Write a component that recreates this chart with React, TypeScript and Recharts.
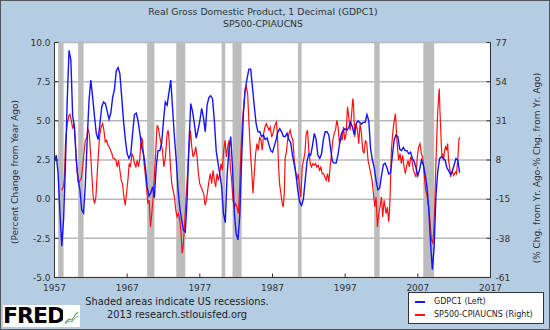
import React from 'react';
import { LineChart, Line, XAxis, YAxis, CartesianGrid, ReferenceArea } from 'recharts';

// Real GDP, percent change from year ago (quarterly, starting 1957 Q1)
const gdpStartYear = 1957;
const gdpValues = [
  2.4, 2.8, 1.6, -0.9,
  -3.0, -1.3, 2.1, 6.3,
  9.5, 8.9, 5.3, 4.6,
  2.5, 1.2, 0.6, -0.7,
  -0.9, 1.0, 3.8, 6.3,
  7.6, 6.5, 5.3, 4.2,
  3.8, 4.8, 5.9, 6.2,
  6.1, 5.6, 5.1, 5.5,
  6.5, 7.0, 8.2, 8.4,
  8.0, 6.5, 5.0, 3.8,
  2.9, 2.6, 2.9, 4.2,
  5.4, 5.5, 5.0, 4.2,
  3.3, 2.9, 2.1, 0.8,
  0.2, 0.4, 0.8, 0.1,
  2.1, 3.1, 3.1, 3.6,
  5.0, 6.2, 6.0, 6.8,
  7.6, 5.8, 4.0, 2.5,
  0.6, -0.6, -1.3, -2.0,
  -2.1, 0.0, 3.5, 6.1,
  5.6, 4.8, 3.9, 4.4,
  5.0, 5.8, 5.2, 4.3,
  6.0, 6.5, 6.6, 6.4,
  5.0, 3.1, 2.3, 1.6,
  0.8, -0.9, -1.5, 1.5,
  3.1, 4.0, 2.0, -0.9,
  -2.2, -2.6, -1.0, 2.5,
  5.5, 7.0, 7.7, 8.3,
  8.3, 7.1, 5.9, 4.8,
  4.3, 4.3, 4.0, 4.1,
  3.8, 3.9, 3.5, 3.1,
  3.0, 3.4, 3.8, 4.3,
  4.5, 4.3, 4.0, 4.0,
  4.2, 3.8, 3.6, 2.8,
  2.2, 1.5, 0.5, -0.2,
  -0.4, 0.0, 1.2, 2.4,
  2.9, 2.8, 3.4, 4.2,
  3.8, 2.8, 2.6, 2.9,
  3.8, 4.3, 4.3, 4.1,
  3.2, 2.4, 2.3, 2.3,
  2.8, 3.6, 4.2, 4.4,
  4.5, 4.4, 4.6, 4.9,
  4.6, 4.1, 4.8, 5.0,
  4.9, 4.8, 4.9, 4.9,
  5.4, 5.0, 3.2, 2.5,
  2.0, 1.2, 0.6, 0.7,
  1.5, 2.2, 2.3, 2.0,
  1.6, 1.7, 2.8, 3.8,
  4.1, 4.0, 3.2, 3.1,
  3.3, 3.1, 3.1, 2.9,
  3.0, 2.6, 2.4, 2.0,
  1.5, 1.9, 2.5, 2.2,
  1.6, 0.8, -0.6, -2.8,
  -4.5, -3.0, 0.3, 1.8,
  2.6, 2.7, 2.6, 2.5,
  2.0, 1.8, 1.6, 1.8,
  2.2, 2.6, 2.5, 1.7,
];

// SP500 % chg from yr ago minus CPI % chg from yr ago (dates as fractional years)
const spYears = [
  1958.0, 1958.2, 1958.35, 1958.53, 1958.76, 1958.99, 1959.13, 1959.31, 1959.5, 1959.68, 1959.82,
  1960.0, 1960.14, 1960.32, 1960.5, 1960.69, 1960.87, 1961.05, 1961.24, 1961.42, 1961.6, 1961.78, 1961.97,
  1962.15, 1962.33, 1962.52, 1962.7, 1962.88, 1963.07, 1963.25, 1963.43, 1963.62, 1963.8, 1963.98,
  1964.17, 1964.35, 1964.53, 1964.71, 1964.9, 1965.08, 1965.26, 1965.45, 1965.63, 1965.81,
  1966.0, 1966.18, 1966.36, 1966.55, 1966.73, 1966.91, 1967.1, 1967.28, 1967.46, 1967.65, 1967.83,
  1968.01, 1968.2, 1968.38, 1968.56, 1968.74, 1968.93, 1969.11, 1969.29, 1969.48, 1969.66, 1969.84,
  1970.03, 1970.21, 1970.39, 1970.58, 1970.76, 1970.94, 1971.12, 1971.31, 1971.49, 1971.67, 1971.86,
  1972.04, 1972.27, 1972.5, 1972.64, 1972.77, 1972.96, 1973.14, 1973.32, 1973.5, 1973.69, 1973.87,
  1974.05, 1974.24, 1974.42, 1974.56, 1974.7, 1974.88, 1975.06, 1975.25, 1975.43, 1975.61, 1975.7, 1975.89,
  1976.07, 1976.25, 1976.44, 1976.62, 1976.8, 1976.99, 1977.17, 1977.35, 1977.53, 1977.72, 1977.9,
  1978.08, 1978.27, 1978.45, 1978.63, 1978.82, 1979.0, 1979.18, 1979.37, 1979.55, 1979.73, 1979.92,
  1980.1, 1980.28, 1980.47, 1980.65, 1980.83, 1981.01, 1981.2, 1981.38, 1981.56, 1981.75, 1981.93,
  1982.11, 1982.3, 1982.48, 1982.66, 1982.85, 1983.03, 1983.21, 1983.4, 1983.58, 1983.76, 1983.95,
  1984.13, 1984.31, 1984.49, 1984.68, 1984.86, 1985.04, 1985.23, 1985.41, 1985.59, 1985.78, 1985.96,
  1986.14, 1986.33, 1986.51, 1986.69, 1986.88, 1987.06, 1987.24, 1987.42, 1987.56, 1987.7, 1987.84, 1987.97,
  1988.16, 1988.34, 1988.48, 1988.62, 1988.75, 1988.89, 1989.07, 1989.26, 1989.44, 1989.62, 1989.81, 1989.99,
  1990.17, 1990.36, 1990.54, 1990.72, 1990.9, 1991.09, 1991.27, 1991.45, 1991.64, 1991.82,
  1992.0, 1992.19, 1992.37, 1992.55, 1992.74, 1992.92, 1993.1, 1993.29, 1993.47, 1993.65, 1993.84,
  1994.02, 1994.2, 1994.38, 1994.57, 1994.75, 1994.93, 1995.12, 1995.3, 1995.48, 1995.67, 1995.85,
  1996.03, 1996.22, 1996.4, 1996.58, 1996.77, 1996.95, 1997.13, 1997.32, 1997.5, 1997.68, 1997.86,
  1998.05, 1998.14, 1998.32, 1998.51, 1998.69, 1998.87, 1999.05, 1999.24, 1999.42, 1999.6, 1999.79, 1999.97,
  2000.15, 2000.34, 2000.52, 2000.7, 2000.89, 2001.07, 2001.25, 2001.44, 2001.62, 2001.8, 2001.99,
  2002.17, 2002.35, 2002.5, 2002.63, 2002.81, 2002.99, 2003.08, 2003.18, 2003.27, 2003.36, 2003.5, 2003.63, 2003.77, 2003.91,
  2004.0, 2004.09, 2004.23, 2004.37, 2004.55, 2004.73, 2004.92, 2005.1, 2005.28, 2005.47, 2005.65, 2005.83,
  2006.02, 2006.2, 2006.38, 2006.56, 2006.75, 2006.93, 2007.11, 2007.3, 2007.48, 2007.66, 2007.8, 2007.94,
  2008.08, 2008.21, 2008.35, 2008.49, 2008.62, 2008.76, 2008.9, 2009.04, 2009.17, 2009.31, 2009.45, 2009.59, 2009.72, 2009.86, 2009.95,
  2010.04, 2010.14, 2010.23, 2010.32, 2010.41, 2010.55, 2010.68, 2010.82, 2010.96,
  2011.1, 2011.23, 2011.37, 2011.51, 2011.65, 2011.78, 2011.92, 2012.06, 2012.2, 2012.33, 2012.52, 2012.65, 2012.75,
];
const spValues = [
  -9.8, -8.0, -3.0, 19.6, 29.4, 34.3, 34.9, 31.3, 26.4, 29.4, 21.5,
  7.8, 0, -5.9, -3.9, -2.9, 3.9, 11.8, 19.6, 20.6, 26.4, 23.5, 11.8,
  -1.9, -13.7, -17.6, -13.7, 0, 13.7, 23.5, 27.4, 29.4, 25.5, 18.6,
  19.6, 16.7, 15.7, 13.7, 11.8, 8.8, 8.8, 7.8, 3.9, 7.8,
  2.0, -3.9, -5.9, -13.7, -18.6, -11.7, -3.9, 5.9, 3.9, 11.8, 9.8,
  5.9, 3.9, 7.8, 3.9, 8.8, 21.5, 19.6, 7.8, 0, -7.8, -17.6,
  -15.6, -31.3, -23.5, -13.7, 0, 13.7, 28.4, 26.4, 21.5, 17.6, 13.7,
  4, 9.8, 23.5, 25.5, 19.6, 3.9, -5.9, -9.8, -13.7, -21.5, -25.4,
  -23.5, -27.4, -35.2, -46.9, -43.0, -31.3, -17.6, -3.9, 9.8, 19.6, 25.5, 15.7,
  9.8, 11.8, 15.7, 9.8, 0, -5.9, -7.8, -9.8, -11.7, -18.6, -15.6,
  -9.8, -3.9, 0, -5.9, 2, -3.9, -7.8, 0, -3.9, 0, 5.9,
  2, 13.7, 19.6, 9.8, 15.7, 19.6, 3.9, -3.9, -15.6, -19.6, -17.6,
  -19.6, -23.5, -7.8, 13.7, 29.4, 39.2, 48.9, 50.9, 47.0, 29.4, 13.7,
  2, -11.7, 0, 11.8, 17.6, 13.7, 21.5, 19.6, 13.7, 23.5, 27.4,
  29.4, 27.4, 25.5, 27.4, 21.5, 23.5, 27, 29.4, 30.4, 19.6, 3.9, -5.9,
  -11.7, -17.6, -19.6, -11.7, 9.8, 11.8, 19.6, 23.5, 25.5, 21.5, 19.6, 7.8,
  2, -3.9, 0, -7.8, -13.7, 3.9, 7.8, 11.8, 23.5, 25.5,
  13.7, 5.9, 3.9, 5.9, 4.9, 5.9, 3.9, 4.9, 2, 3.9, 0,
  0, -2, -3.9, 0, -4.9, 3.9, 11.8, 19.6, 23.5, 25.5, 31.3,
  27.4, 17.6, 21.5, 19.6, 27.4, 19.6, 23.5, 39.2, 33.3, 25.5, 33.3,
  44.1, 41.1, 21.5, 29.4, 25.5, 17.6, 29.4, 23.5, 13.7, 11.8, 19.6, 17.6,
  7.8, 3.9, 0, -3.9, -11.7, -19.6, -13.7, -31.3, -23.5, -19.6, -13.7,
  -25.4, -15.6, -19.6, -23.5, -19.6, -28.3, -23.5, -13.7, 0, 13.7, 21.5, 27.4, 31.3, 35.2,
  29.4, 21.5, 13.7, 7.8, 11.8, 5.9, 10.8, 3.9, 0, 4.9, 7.8, 3.9,
  9.8, 7.8, 2, 0, -2, 9.8, 15.7, 17.6, 11.8, 9.8, 3.9, -3.9,
  -9.8, -11.7, -15.6, -19.6, -25.4, -33.3, -39.1, -41.1, -35.2, -21.5, 0, 19.6, 35.2, 45.0, 49.9,
  37.2, 27.4, 17.6, 9.8, 11.8, 7.8, 13.7, 15.7, 13.7,
  17.6, 7.8, 3.9, -1.9, 0, 1, -1, 0, 1, 0, 9.8, 19.6, 21.5,
];

const recessionStarts = [1957.5, 1960.25, 1969.75, 1973.75, 1980.0, 1981.5, 1990.5, 2001.0, 2007.75];
const recessionEnds = [1958.25, 1961.0, 1970.75, 1975.0, 1980.5, 1982.75, 1991.0, 2001.75, 2009.25];

const xTicks = [1957, 1967, 1977, 1987, 1997, 2007, 2017];
const leftTicks = [-5, -2.5, 0, 2.5, 5, 7.5, 10];
const rightTicks = [-61, -38, -15, 8, 31, 54, 77];

const titleLine1 = 'Real Gross Domestic Product, 1 Decimal (GDPC1)';
const titleLine2 = 'SP500-CPIAUCNS';
const leftLabel = '(Percent Change from Year Ago)';
const rightLabel = '(% Chg. from Yr. Ago-% Chg. from Yr. Ago)';
const legendNames = ['GDPC1 (Left)', 'SP500-CPIAUCNS (Right)'];

const gdpData = gdpValues.map((v, i) => ({ x: gdpStartYear + i / 4, v }));
const spData = spYears.map((x, i) => ({ x, v: spValues[i] }));

const FONT = '"DejaVu Sans", sans-serif';
const tickStyle = { fontSize: 9, fill: '#333', fontFamily: FONT };

const abs = (x: number, y: number, extra: React.CSSProperties = {}): React.CSSProperties => ({
  position: 'absolute',
  left: x,
  top: y,
  whiteSpace: 'nowrap',
  fontFamily: FONT,
  color: '#222',
  ...extra,
});

export default function App() {
  return (
    <div
      style={{
        position: 'fixed',
        left: 0,
        top: 0,
        width: 550,
        height: 330,
        background: '#b5cde3',
        boxSizing: 'border-box',
        border: '1px solid #555',
        overflow: 'hidden',
      }}
    >
      <div style={{ position: 'absolute', left: -1, top: -1 }}>
        <LineChart width={550} height={330} margin={{ top: 42.5, right: 0.5, bottom: 32.5, left: 0.5 }}>
          <CartesianGrid yAxisId="left" vertical={false} fill="#ffffff" stroke="#b8b8b8" strokeWidth={1.5} />
          <XAxis
            type="number"
            dataKey="x"
            domain={[1957, 2017]}
            ticks={xTicks}
            allowDataOverflow
            height={20}
            tick={tickStyle}
            tickSize={-4}
            tickMargin={11}
            axisLine={{ stroke: '#333' }}
            tickLine={{ stroke: '#333' }}
          />
          <YAxis
            yAxisId="left"
            orientation="left"
            domain={[-5, 10]}
            ticks={leftTicks}
            width={54}
            allowDataOverflow
            tickFormatter={(v: number) => v.toFixed(1)}
            tick={tickStyle}
            tickSize={-4}
            tickMargin={8}
            axisLine={{ stroke: '#333' }}
            tickLine={{ stroke: '#333' }}
          />
          <YAxis
            yAxisId="right"
            orientation="right"
            domain={[-61, 77]}
            ticks={rightTicks}
            width={59}
            allowDataOverflow
            tick={tickStyle}
            tickSize={-4}
            tickMargin={9}
            axisLine={{ stroke: '#333' }}
            tickLine={{ stroke: '#333' }}
          />
          {recessionStarts.map((s, i) => (
            <ReferenceArea
              key={'r' + i}
              x1={s}
              x2={recessionEnds[i]}
              yAxisId="left"
              fill="#bcbcbc"
              fillOpacity={1}
              stroke="none"
              zIndex={-50}
            />
          ))}
          <Line
            data={spData}
            dataKey="v"
            yAxisId="right"
            stroke="#ff1010"
            strokeWidth={1.2}
            dot={false}
            isAnimationActive={false}
            type="linear"
          />
          <Line
            data={gdpData}
            dataKey="v"
            yAxisId="left"
            stroke="#1414ff"
            strokeWidth={1.4}
            dot={false}
            isAnimationActive={false}
            type="linear"
          />
        </LineChart>
      </div>

      <div style={abs(262, 10, { fontSize: 9.3, color: '#333', transform: 'translate(-50%, -50%)' })}>{titleLine1}</div>
      <div style={abs(262, 22, { fontSize: 9.3, color: '#333', transform: 'translate(-50%, -50%)' })}>{titleLine2}</div>

      <div style={abs(14, 171, { fontSize: 9, color: '#333', transform: 'translate(-50%, -50%) rotate(-90deg)' })}>{leftLabel}</div>
      <div style={abs(536, 167, { fontSize: 9, color: '#333', transform: 'translate(-50%, -50%) rotate(-90deg)' })}>{rightLabel}</div>

      <div style={abs(176, 300, { fontSize: 9.8, transform: 'translate(-50%, -50%)' })}>Shaded areas indicate US recessions.</div>
      <div style={abs(176, 313, { fontSize: 9.8, transform: 'translate(-50%, -50%)' })}>2013 research.stlouisfed.org</div>

      <div
        style={abs(2, 304, {
          width: 60,
          height: 22,
          background: '#fff',
          fontSize: 22,
          fontWeight: 900,
          color: '#000',
          lineHeight: '22px',
          letterSpacing: -1,
          textAlign: 'center',
        })}
      >
        FRED
      </div>
      <div style={abs(62, 304, { width: 17, height: 22, background: '#fff' })}>
        <svg width={17} height={22}>
          <polyline points="2,18 6,14 9,15 12,10 15,7" fill="none" stroke="#6aa84f" strokeWidth={1.2} />
          <polyline points="2,19 6,16 9,17 12,13 15,11" fill="none" stroke="#6f9fd8" strokeWidth={1} />
        </svg>
      </div>

      <div
        style={abs(407, 291, {
          width: 136,
          height: 32,
          background: '#fff',
          border: '1px solid #333',
          boxSizing: 'border-box',
        })}
      >
        <div style={{ position: 'absolute', left: 6, top: 8, width: 10, height: 2, background: '#1414ff' }} />
        <div style={abs(25, 4, { fontSize: 8 })}>{legendNames[0]}</div>
        <div style={{ position: 'absolute', left: 6, top: 21, width: 10, height: 2, background: '#ff1010' }} />
        <div style={abs(25, 17, { fontSize: 8 })}>{legendNames[1]}</div>
      </div>
    </div>
  );
}
